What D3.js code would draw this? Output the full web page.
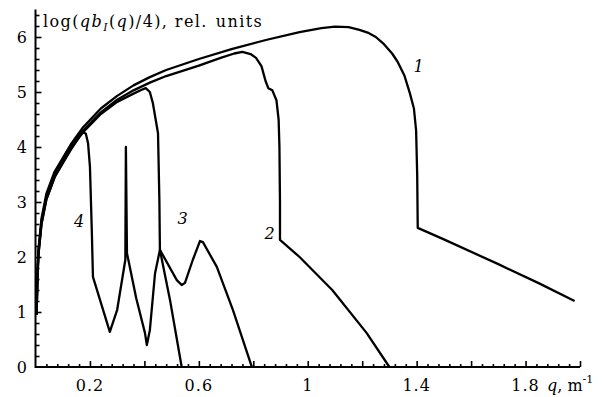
<!DOCTYPE html>
<html>
<head>
<meta charset="utf-8">
<script src="https://cdn.jsdelivr.net/npm/d3@7"></script>
<style>
  body { margin: 0; background: #fff; }
  text { font-family: "DejaVu Serif", serif; fill: #000; }
</style>
</head>
<body>
<div id="chart"></div>
<script>
// curve 1
const q1 = [0.004, 0.007, 0.011, 0.022, 0.04, 0.07, 0.1, 0.13, 0.175, 0.24, 0.3, 0.36, 0.42, 0.48, 0.6, 0.72, 0.85, 0.97, 1.05, 1.1, 1.15, 1.19, 1.22, 1.25, 1.28, 1.31, 1.33, 1.355, 1.375, 1.39, 1.398, 1.402, 1.404, 1.5, 1.7, 1.85, 1.98];
const v1 = [0.95, 1.7, 2.15, 2.7, 3.15, 3.55, 3.8, 4.05, 4.36, 4.7, 4.93, 5.12, 5.27, 5.4, 5.6, 5.78, 5.95, 6.09, 6.16, 6.19, 6.18, 6.13, 6.08, 6.0, 5.87, 5.7, 5.55, 5.3, 4.98, 4.7, 4.3, 3.5, 2.53, 2.32, 1.87, 1.52, 1.2];
// curve 2
const q2 = [0.004, 0.007, 0.011, 0.022, 0.04, 0.07, 0.1, 0.13, 0.175, 0.24, 0.3, 0.36, 0.42, 0.48, 0.6, 0.68, 0.73, 0.76, 0.79, 0.81, 0.83, 0.845, 0.855, 0.87, 0.885, 0.893, 0.896, 0.898, 0.898, 0.97, 1.09, 1.216, 1.3];
const v2 = [0.95, 1.65, 2.1, 2.65, 3.1, 3.5, 3.76, 4.0, 4.3, 4.63, 4.86, 5.03, 5.17, 5.29, 5.48, 5.62, 5.7, 5.73, 5.69, 5.62, 5.47, 5.2, 5.07, 5.03, 4.85, 4.5, 4.0, 3.0, 2.31, 2.0, 1.4, 0.62, 0];
// curve 3
const q3 = [0.004, 0.007, 0.011, 0.022, 0.04, 0.07, 0.1, 0.13, 0.175, 0.24, 0.3, 0.36, 0.39, 0.405, 0.42, 0.431, 0.45, 0.455, 0.457, 0.519, 0.537, 0.549, 0.578, 0.604, 0.615, 0.666, 0.725, 0.79, 0.795];
const v3 = [0.95, 1.6, 2.05, 2.6, 3.05, 3.45, 3.72, 3.97, 4.27, 4.6, 4.82, 4.97, 5.04, 5.07, 5.0, 4.8, 4.25, 3.04, 2.13, 1.58, 1.49, 1.53, 1.95, 2.29, 2.27, 1.82, 1.04, 0.07, 0];
// curve 4
const q4 = [0.004, 0.007, 0.011, 0.022, 0.04, 0.07, 0.1, 0.13, 0.16, 0.175, 0.185, 0.193, 0.2, 0.207, 0.211, 0.273, 0.3, 0.33, 0.332, 0.336, 0.37, 0.402, 0.409, 0.42, 0.439, 0.457, 0.494, 0.537];
const v4 = [0.95, 1.6, 2.05, 2.6, 3.05, 3.45, 3.7, 3.95, 4.18, 4.27, 4.24, 4.07, 3.64, 2.44, 1.64, 0.64, 1.04, 1.95, 4.0, 2.07, 1.25, 0.62, 0.4, 0.67, 1.7, 2.13, 1.22, 0];

const CURVES = [
    {name: "1", q: q1, v: v1},
    {name: "2", q: q2, v: v2},
    {name: "3", q: q3, v: v3},
    {name: "4", q: q4, v: v4},
];
// curve labels (q, value)
const LABELS = [
    {text: "1", q: 1.407, v: 5.37},
    {text: "2", q: 0.86, v: 2.33},
    {text: "3", q: 0.54, v: 2.6},
    {text: "4", q: 0.16, v: 2.55},
];
const X_LABELS = [0.2, 0.6, 1, 1.4, 1.8];
const Y_LABELS = [0, 1, 2, 3, 4, 5, 6];

const W = 605, H = 397;
const svg = d3.select("#chart").append("svg")
    .attr("width", W)
    .attr("height", H);

const x = d3.scaleLinear().domain([0, 2]).range([35.5, 580]);
const y = d3.scaleLinear().domain([0, 6.5]).range([367, 9.5]);

// AXES
const xMinor = d3.range(0.04, 2.001, 0.04).filter(d => Math.abs(d / 0.2 - Math.round(d / 0.2)) > 1e-6);
const xMajor = d3.range(0.2, 2.001, 0.2);
const yMinor = d3.range(0.2, 6.45, 0.2).filter(d => Math.abs(d - Math.round(d)) > 1e-6);
const yMajor = d3.range(1, 7, 1);

const gx = svg.append("g").attr("transform", `translate(0, ${y(0)})`);
gx.call(d3.axisBottom(x).tickValues(xMinor).tickSize(-3).tickFormat(""));
gx.call(g => g.append("g").call(d3.axisBottom(x).tickValues(xMajor).tickSize(-6).tickFormat("")));
gx.selectAll(".domain").remove();
gx.selectAll("line").attr("stroke", "#000").attr("stroke-width", 1.6);

const gy = svg.append("g").attr("transform", `translate(${x(0)}, 0)`);
gy.call(d3.axisLeft(y).tickValues(yMinor).tickSize(-4).tickFormat(""));
gy.call(g => g.append("g").call(d3.axisLeft(y).tickValues(yMajor).tickSize(-6).tickFormat("")));
gy.selectAll(".domain").remove();
gy.selectAll("line").attr("stroke", "#000").attr("stroke-width", 1.6);

svg.append("line")
    .attr("x1", x(0)).attr("x2", x(2))
    .attr("y1", y(0)).attr("y2", y(0))
    .attr("stroke", "#000").attr("stroke-width", 2);
svg.append("line")
    .attr("x1", x(0)).attr("x2", x(0))
    .attr("y1", y(0) + 1).attr("y2", y(6.5))
    .attr("stroke", "#000").attr("stroke-width", 2);

// tick labels
svg.selectAll(".xlab").data(X_LABELS).enter().append("text")
    .attr("x", d => x(d))
    .attr("y", 391)
    .attr("text-anchor", "middle")
    .attr("font-size", 16)
    .attr("letter-spacing", 1)
    .text(d => d);
svg.selectAll(".ylab").data(Y_LABELS).enter().append("text")
    .attr("x", 27)
    .attr("y", d => y(d) + 6)
    .attr("text-anchor", "end")
    .attr("font-size", 16)
    .text(d => d);

// axis titles
const xt = svg.append("text").attr("x", 547).attr("y", 391).attr("font-size", 16);
xt.append("tspan").attr("font-style", "italic").text("q");
xt.append("tspan").text(", m");
xt.append("tspan").attr("font-size", 11).attr("dy", -8).text("-1");

const yt = svg.append("text").attr("x", 43).attr("y", 27)
    .attr("font-size", 16).attr("letter-spacing", 1.4);
yt.append("tspan").text("log(");
yt.append("tspan").attr("font-style", "italic").text("qb");
yt.append("tspan").attr("font-style", "italic").attr("font-size", 11).attr("dy", 4).text("I");
yt.append("tspan").attr("dy", -4).text("(");
yt.append("tspan").attr("font-style", "italic").text("q");
yt.append("tspan").text(")/4), rel.");
yt.append("tspan").attr("dx", 8).text("units");

// DATA
const line = d3.line()
    .x(d => x(d[0]))
    .y(d => y(d[1]));

svg.selectAll(".curve").data(CURVES).enter().append("path")
    .attr("class", "curve")
    .attr("d", c => line(c.q.map((q, i) => [q, c.v[i]])))
    .attr("fill", "none")
    .attr("stroke", "#000")
    .attr("stroke-width", 2.3)
    .attr("stroke-linejoin", "round");

svg.selectAll(".clab").data(LABELS).enter().append("text")
    .attr("x", d => x(d.q))
    .attr("y", d => y(d.v))
    .attr("font-size", 16)
    .attr("font-style", "italic")
    .attr("text-anchor", "middle")
    .text(d => d.text);
</script>
</body>
</html>
